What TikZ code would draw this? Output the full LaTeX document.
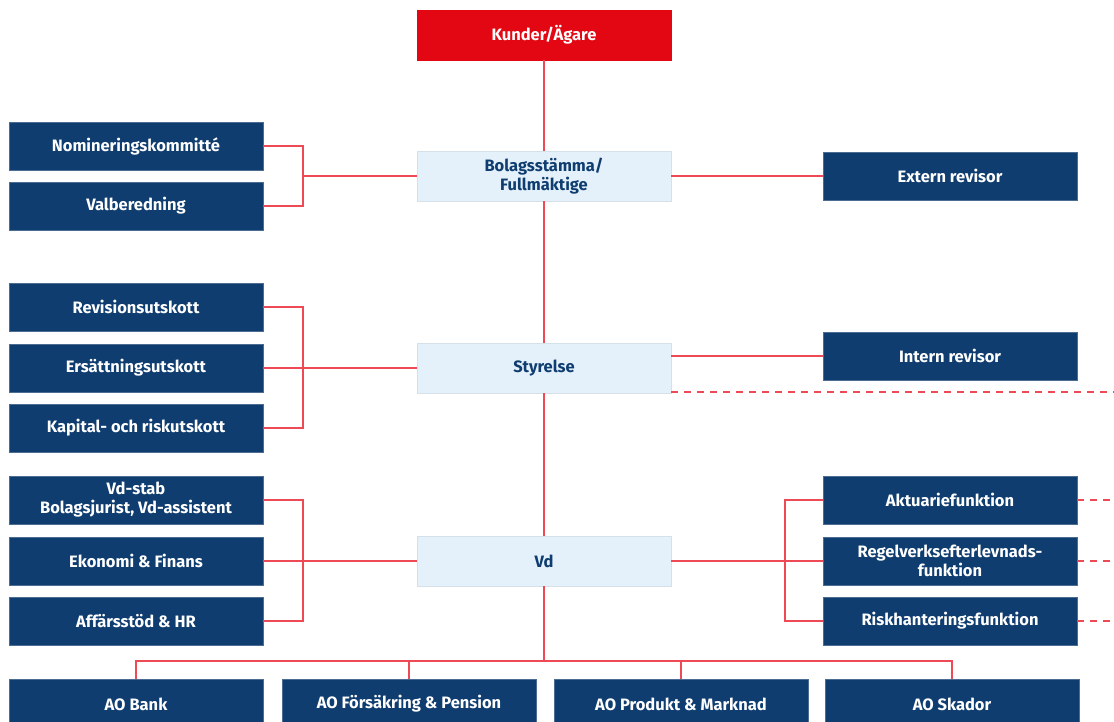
\documentclass[tikz,border=0pt]{standalone}
\usepackage{fontspec}
\setmainfont{Fira Sans}
\usetikzlibrary{positioning}
\definecolor{orgred}{HTML}{E30613}
\definecolor{orgnavy}{HTML}{0F3D6F}
\definecolor{orglight}{HTML}{E4F1FA}
\definecolor{linkred}{HTML}{EE4A56}

\tikzset{
  unitbox/.style={fill=orgnavy, draw=orgnavy!75!white, text=white, line width=0.6pt,
    minimum width=254pt, minimum height=48pt, inner sep=2pt, align=center,
    font=\fontsize{16.5}{19}\selectfont\bfseries},
  mainbox/.style={unitbox, fill=orglight, draw=orglight!85!gray, text=orgnavy, minimum height=50pt},
  topbox/.style={mainbox, fill=orgred, draw=orgred, text=white},
  link/.style={draw=linkred, line width=1.3pt},
  dashlink/.style={link, dash pattern=on 7pt off 6pt},
}

\begin{document}
\begin{tikzpicture}[x=1pt, y=-1pt]
  \useasboundingbox (0,0) rectangle (1114,722);

  % Main chain
  \node[topbox] (owners) at (544,35) {Kunder/Ägare};
  \node[mainbox] (stamma) at (544,176) {Bolagsstämma/\\Fullmäktige};
  \node[mainbox] (styr) at (544,368) {Styrelse};
  \node[mainbox] (vd) at (544,561) {Vd};

  % Left column
  \foreach \y/\n/\t in {146/nom/Nomineringskommitté, 206/val/Valberedning,
      307/rev/Revisionsutskott, 368/ers/Ersättningsutskott, 428/kap/Kapital- och riskutskott,
      500/stab/{Vd-stab\\Bolagsjurist, Vd-assistent}, 561/ekon/Ekonomi \& Finans,
      621/hr/Affärsstöd \& HR} {
    \node[unitbox] (\n) at (136,\y) {\t};
  }

  % Right column
  \node[unitbox] (extrev) at (950,176) {Extern revisor};
  \node[unitbox] (intrev) at (950,356) {Intern revisor};
  \foreach \y/\n/\t in {500/akt/Aktuariefunktion, 561/regel/{Regelverksefterlevnads-\\funktion},
      621/risk/Riskhanteringsfunktion} {
    \node[unitbox] (\n) at (950,\y) {\t};
  }

  % Bottom row
  \foreach \x/\n/\t in {136/aobank/AO Bank, 409/aofors/AO Försäkring \& Pension,
      681/aoprod/AO Produkt \& Marknad, 952/aoskad/AO Skador} {
    \node[unitbox, minimum height=50pt] (\n) at (\x,704) {\t};
  }

  \coordinate (brnom) at (303,176);
  \coordinate (brrev) at (303,368);
  \coordinate (brvd) at (303,561);
  \coordinate (brfun) at (785,561);
  \coordinate (bus) at (544,661);
  \coordinate (dashstyr) at (1114,392);

  % Vertical spine
  \draw[link] (owners) -- (stamma);
  \draw[link] (stamma) -- (styr);
  \draw[link] (styr) -- (vd);
  \draw[link] (vd) -- (bus);

  % Brackets on the left
  \draw[link] (nom.east) -| (brnom) |- (val.east);
  \draw[link] (brnom) -- (stamma.west);
  \draw[link] (rev.east) -| (brrev) |- (kap.east);
  \draw[link] (ers.east) -- (styr.west);
  \draw[link] (stab.east) -| (brvd) |- (hr.east);
  \draw[link] (ekon.east) -- (vd.west);

  % Right side
  \draw[link] (stamma.east) -- (extrev.west);
  \draw[link] (styr.east |- intrev) -- (intrev.west);
  \draw[link] (akt.west) -| (brfun) |- (risk.west);
  \draw[link] (vd.east) -- (regel.west);

  % Dashed links
  \draw[dashlink] (styr.east |- dashstyr) -- (dashstyr);
  \foreach \n in {akt, regel, risk} {
    \draw[dashlink] (\n.east) -- (\n.east -| dashstyr);
  }

  % Bus to business areas
  \foreach \n in {aobank, aofors, aoprod, aoskad} {
    \draw[link] (bus) -| (\n.north);
  }
\end{tikzpicture}
\end{document}
